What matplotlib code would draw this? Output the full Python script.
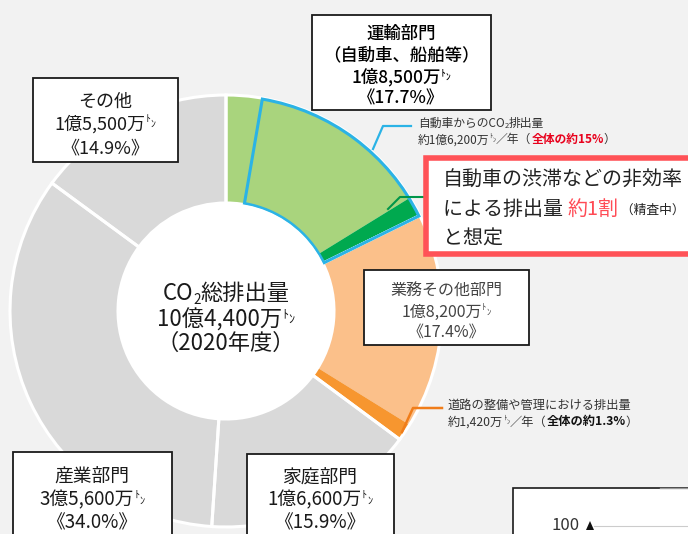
import matplotlib
matplotlib.use("Agg")
import matplotlib.pyplot as plt
from matplotlib.patches import Rectangle, Circle, Polygon

plt.rcParams["font.family"] = ["Noto Sans CJK JP", "DejaVu Sans"]

W, H = 688, 534

# ---- data -------------------------------------------------------------
sector_names = ["運輸部門", "業務その他部門", "家庭部門", "産業部門", "その他"]
sector_shares = [17.7, 17.4, 15.9, 34.0, 14.9]          # % of total, clockwise from 12 o'clock
sector_amounts = ["1億8,500万", "1億8,200万", "1億6,600万", "3億5,600万", "1億5,500万"]
car_share = 15.0            # 自動車からのCO2排出量 (全体の約15%)
car_amount = "1億6,200万"
congestion_ratio = 0.1      # 渋滞などの非効率 (自動車排出量の約1割)
road_share = 1.3            # 道路の整備や管理 (全体の約1.3%)
road_amount = "1,420万"
total_amount = "10億4,400万"
fiscal_year = "2020年度"

# ---- colours ------------------------------------------------------------
BG = "#F2F2F2"
LIGHT_GREEN = "#A9D47D"
DARK_GREEN = "#00A94F"
LIGHT_ORANGE = "#FBC08A"
DARK_ORANGE = "#F7962F"
GREY = "#D9D9D9"
BLUE = "#2BB3E6"
RED = "#FF5257"

fig = plt.figure(figsize=(W / 100, H / 100), dpi=100)
fig.patch.set_facecolor(BG)
ax = fig.add_axes([0, 0, 1, 1])
ax.set_facecolor(BG)


def Y(y):
    """Convert a top-down pixel row to the axes' bottom-up coordinate."""
    return H - y


cx, cy = 226, Y(311)
r_out, r_in = 216, 108
ring = r_out - r_in

# detailed ring: sub-bands for congestion and road emissions
congestion = car_share * congestion_ratio
detail_vals = [
    sector_shares[0] - car_share,
    car_share - congestion,
    congestion,
    sector_shares[1] - road_share,
    road_share,
    sector_shares[2],
    sector_shares[3],
    sector_shares[4],
]
detail_cols = [LIGHT_GREEN, LIGHT_GREEN, DARK_GREEN, LIGHT_ORANGE, DARK_ORANGE,
               GREY, GREY, GREY]
ax.pie(detail_vals, colors=detail_cols, radius=r_out, center=(cx, cy),
       startangle=90, counterclock=False,
       wedgeprops=dict(width=ring, linewidth=0))

# sector outlines in white
ax.pie(sector_shares, colors=["none"] * len(sector_shares), radius=r_out,
       center=(cx, cy), startangle=90, counterclock=False,
       wedgeprops=dict(width=ring, edgecolor="white", linewidth=2.2))

# outline of the car share within the transport sector
total = sum(sector_shares)
car_vals = [sector_shares[0] - car_share, car_share,
            total - sector_shares[0]]
car_wedges, _ = ax.pie(car_vals, colors=["none"] * 3, radius=r_out - 1,
                       center=(cx, cy), startangle=90, counterclock=False,
                       wedgeprops=dict(width=ring - 2, linewidth=0))
car_wedges[1].set_edgecolor(BLUE)
car_wedges[1].set_linewidth(2.2)

ax.add_patch(Circle((cx, cy), r_in, facecolor="white", edgecolor="none", zorder=3))

ax.set_xlim(0, W)
ax.set_ylim(0, H)
ax.set_aspect("equal")
ax.axis("off")

# ---- leader lines -------------------------------------------------------
ax.plot([373, 383, 411], [Y(149), Y(126), Y(126)], color=BLUE, lw=1.6, zorder=4)
ax.plot([388, 400, 426], [Y(209), Y(197), Y(197)], color="#00964A", lw=1.5, zorder=4)
ax.plot([402, 413, 442], [Y(432), Y(408), Y(408)], color="#F07D1A", lw=1.8, zorder=4)

# ---- boxes --------------------------------------------------------------
def box(x0, y0, x1, y1, ec="#1a1a1a", lw=1.3, z=5):
    ax.add_patch(Rectangle((x0, Y(y1)), x1 - x0, y1 - y0, facecolor="white",
                           edgecolor=ec, linewidth=lw, zorder=z))


box(312, 15, 491, 110)
box(33, 78, 178, 162)
box(364, 270, 529, 345)
box(13, 452, 172, 560)
box(247, 454, 394, 560)
box(426, 158, 720, 254, ec=RED, lw=4.0, z=6)
box(513, 488, 720, 560, lw=1.2)
ax.plot([660, 688], [Y(488), Y(488)], color="#9a9a9a", lw=1.0, zorder=6)

# ---- rich text ----------------------------------------------------------
renderer = fig.canvas.get_renderer()


def width_of(s, size, weight):
    t = ax.text(0, 0, s, fontsize=size, fontweight=weight)
    w = t.get_window_extent(renderer=renderer).width
    t.remove()
    return w


def rich(x, y, runs, size, ha="center", color="#1a1a1a", weight="normal", z=7):
    """runs: list of (text, rel_size, color, weight, raise_em)."""
    parts = []
    for r in runs:
        if isinstance(r, str):
            r = (r, 1.0, None, None, 0.0)
        s, rel, c, wt, rise = r
        sz = size * rel
        wt = wt or weight
        parts.append((s, sz, c or color, wt, rise, width_of(s, sz, wt)))
    total_w = sum(p[5] for p in parts)
    px = size * 100 / 72
    base = Y(y + 0.36 * px)
    xx = x - total_w / 2 if ha == "center" else x
    for s, sz, c, wt, rise, w in parts:
        ax.text(xx, base + rise * px, s, fontsize=sz, color=c, fontweight=wt,
                ha="left", va="baseline", zorder=z)
        xx += w


def ton():
    return [("ﾄ", 0.55, None, None, 0.42), ("ﾝ", 0.55, None, None, 0.12)]


def sector_box_text(idx, x, ys, size, color="#1a1a1a", weight="normal"):
    lines = [[sector_names[idx]],
             [sector_amounts[idx]] + ton(),
             [f"《{sector_shares[idx]:.1f}%》"]]
    for ln, yy in zip(lines, ys):
        rich(x, yy, ln, size, color=color, weight=weight)


# transport box
TW = "medium"
rich(401, 33, ["運輸部門"], 12.5, weight=TW, color="#000000")
rich(401, 54, ["（自動車、船舶等）"], 12.5, weight=TW, color="#000000")
rich(401, 76, [sector_amounts[0]] + ton(), 12.5, weight=TW, color="#000000")
rich(401, 97, [f"《{sector_shares[0]:.1f}%》"], 12.5, weight=TW, color="#000000")

# other sectors
sector_box_text(4, 105, [100, 123, 147], 13)
sector_box_text(1, 446, [290, 311, 331], 11.5, color="#444444")
sector_box_text(3, 92, [475, 499, 522], 13.5)
sector_box_text(2, 320, [476, 499, 522], 13.5)

# centre of the ring
rich(cx, 292, ["CO", ("2", 0.6, None, None, -0.18), "総排出量"], 16, z=8)
rich(cx, 319, [total_amount] + ton(), 16, z=8)
rich(cx, 342, [f"（{fiscal_year}）"], 16, z=8)

# car emissions note
rich(418, 123, ["自動車からのCO", ("2", 0.65, None, None, -0.1), "排出量"], 8.5,
     ha="left", color="#333333")
rich(418, 139, ["約" + car_amount] + ton() +
     ["／年（", ("全体の約15%", 1.0, "#E8001C", "bold", 0.0), "）"], 8.5,
     ha="left", color="#333333")

# road note
rich(448, 404, ["道路の整備や管理における排出量"], 8.8, ha="left", color="#333333")
rich(448, 421, ["約" + road_amount] + ton() +
     ["／年（", ("全体の約1.3%", 1.0, "#111111", "bold", 0.0), "）"], 8.8,
     ha="left", color="#333333")

# congestion call-out
rich(443, 179, ["自動車の渋滞などの非効率"], 14.4, ha="left", color="#222222")
rich(443, 208, ["による排出量 ", ("約1割", 1.0, "#FF4B55", None, 0.0),
                (" （精査中）", 0.64, None, None, 0.05)], 14.4, ha="left", color="#222222")
rich(443, 237, ["と想定"], 14.4, ha="left", color="#222222")

# corner of the neighbouring chart
rich(566, 524, ["100"], 12, color="#333333")
ax.add_patch(Polygon([[586, Y(530)], [594, Y(530)], [590, Y(521)]], closed=True,
                     facecolor="#111111", edgecolor="none", zorder=7))
ax.plot([594, 688], [Y(526), Y(526)], color="#CCCCCC", lw=0.8, zorder=6)

fig.savefig("out.png", dpi=100, facecolor=fig.get_facecolor())
